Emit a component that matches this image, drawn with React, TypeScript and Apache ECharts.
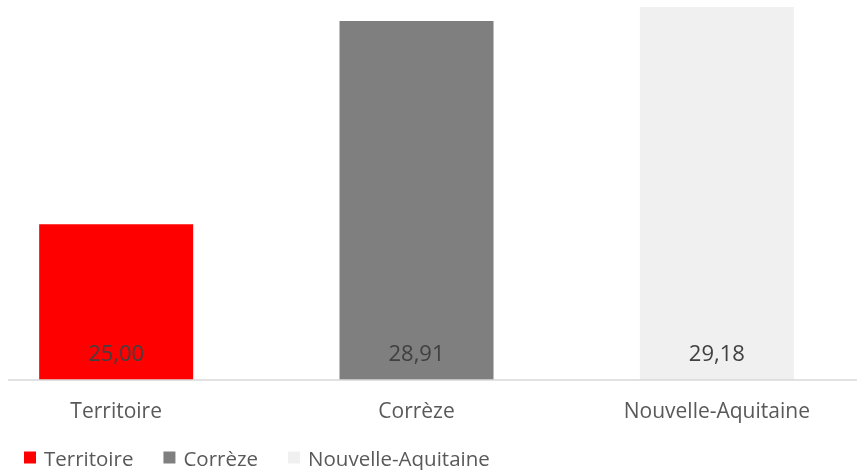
import React, { useEffect, useRef } from "react";
import * as echarts from "echarts";

const categories = ["Territoire", "Corrèze", "Nouvelle-Aquitaine"];
const values = [25.0, 28.91, 29.18];
const colors = ["#ff0000", "#7f7f7f", "#f0f0f0"];

const OFFSET = 34;

export default function App() {
  const ref = useRef<HTMLDivElement>(null);
  useEffect(() => {
    if (!ref.current) return;
    const chart = echarts.init(ref.current, null, { renderer: "svg" });
    const series = categories.map((name, i) => ({
      name,
      type: "bar",
      stack: "s",
      barWidth: 154,
      data: categories.map((_, j) => (j === i ? values[i] : null)),
      itemStyle: { color: colors[i] },
      label: {
        show: true,
        position: "insideBottom",
        distance: 17,
        color: "#404040",
        fontFamily: "Open Sans",
        fontSize: 22,
        formatter: (p: any) => p.value.toFixed(2).replace(".", ","),
      },
    }));
    chart.setOption({
      animation: false,
      grid: { left: 0, right: 0, top: 6, bottom: 90, containLabel: false },
      legend: {
        left: 24 + OFFSET,
        top: 447,
        padding: 0,
        itemWidth: 12,
        itemHeight: 12,
        itemGap: 30,
        icon: "rect",
        textStyle: { color: "#595959", fontFamily: "Open Sans", fontSize: 20.5, padding: [0, 0, 0, 3] },
        data: categories,
      },
      xAxis: {
        type: "category",
        data: categories,
        axisLine: { show: false },
        axisTick: { show: false },
        axisLabel: { color: "#595959", fontFamily: "Open Sans", fontSize: 21, margin: 19 },
      },
      yAxis: { type: "value", min: 22, max: 29.2, show: false, splitLine: { show: false } },
      graphic: [
        {
          type: "line",
          shape: { x1: 8 + OFFSET, y1: 380, x2: 857 + OFFSET, y2: 380 },
          style: { stroke: "#d9d9d9", lineWidth: 1.5 },
          z: 100,
        },
      ],
      series,
    });
    return () => chart.dispose();
  }, []);
  return (
    <div style={{ position: "fixed", left: 0, top: 0, width: 857, height: 470, overflow: "hidden" }}>
      <div ref={ref} style={{ position: "absolute", left: -OFFSET, top: 0, width: 901, height: 470 }} />
    </div>
  );
}
